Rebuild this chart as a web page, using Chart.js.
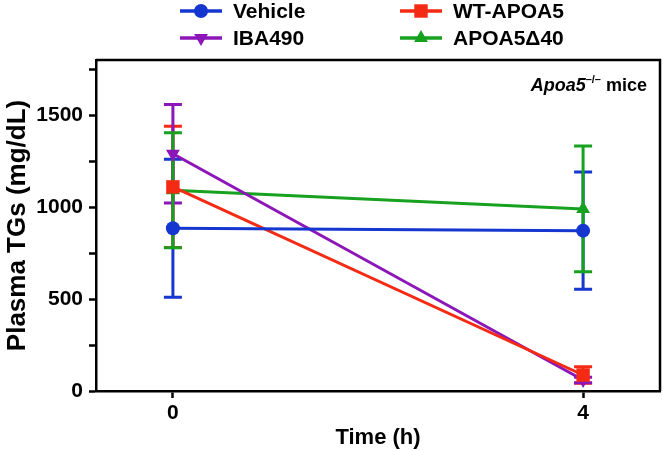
<!DOCTYPE html>
<html>
<head>
<meta charset="utf-8">
<script src="https://cdn.jsdelivr.net/npm/chart.js@4"></script>
<style>
  html, body { margin: 0; padding: 0; background: #fff; }
  #wrap { width: 663px; height: 451px; }
</style>
</head>
<body>
<div id="wrap"><canvas id="tg-chart" width="663" height="451"></canvas></div>
<script>
const times = [0, 4];
const seriesNames = ['Vehicle', 'WT-APOA5', 'IBA490', 'APOA5\u039440'];
const vehicle = [885, 872];
const vehicleErr = [375, 319];
const wtApoa5 = [1110, 87];
const wtApoa5Err = [330, 45];
const iba490 = [1290, 60];
const iba490Err = [268, 15];
const apoa5d40 = [1092, 990];
const apoa5d40Err = [313, 342];
const yTicks = [0, 250, 500, 750, 1000, 1250, 1500, 1750];
const yLabels = [0, 500, 1000, 1500];

const FONT = '"Liberation Sans", Arial, Helvetica, sans-serif';
const colors = ['#1537d0', '#f42a14', '#8c16b8', '#16a11e'];
const markers = [
    { style: 'circle', rot: 0, r: 7 },
    { style: 'rect', rot: 0, r: 9.5 },
    { style: 'triangle', rot: 180, r: 8 },
    { style: 'triangle', rot: 0, r: 8 },
];

function series(values, errs, i) {
    return {
        label: seriesNames[i],
        data: values.map((v, k) => ({ x: times[k], y: v })),
        errors: errs,
        borderColor: colors[i],
        backgroundColor: colors[i],
        borderWidth: 3,
        pointStyle: markers[i].style,
        pointRotation: markers[i].rot,
        pointRadius: markers[i].r,
        pointHoverRadius: markers[i].r,
        pointBorderWidth: 0,
        tension: 0,
    }
}

// error bars + frame + legend + note
const extrasPlugin = {
    id: 'extras',
    beforeDatasetsDraw(chart) {
        const c = chart.ctx, ys = chart.scales.y, xs = chart.scales.x;
        chart.data.datasets.forEach((ds) => {
            c.save();
            c.strokeStyle = ds.borderColor;
            c.lineWidth = 3;
            ds.data.forEach((p, k) => {
                const px = xs.getPixelForValue(p.x);
                const top = ys.getPixelForValue(p.y + ds.errors[k]);
                const bot = ys.getPixelForValue(p.y - ds.errors[k]);
                c.beginPath();
                c.moveTo(px, top); c.lineTo(px, bot);
                c.moveTo(px - 9, top); c.lineTo(px + 9, top);
                c.moveTo(px - 9, bot); c.lineTo(px + 9, bot);
                c.stroke();
            });
            c.restore();
        });
    },
    afterDraw(chart) {
        const c = chart.ctx, a = chart.chartArea;
        c.save();
        // top + right frame
        c.strokeStyle = '#000';
        c.lineWidth = 2.5;
        c.beginPath();
        c.moveTo(a.left, a.top); c.lineTo(a.right, a.top); c.lineTo(a.right, a.bottom);
        c.stroke();

        // legend
        const slots = [
            { x: 180, y: 11 }, { x: 400, y: 11 },
            { x: 180, y: 38 }, { x: 400, y: 38 },
        ];
        chart.data.datasets.forEach((ds, i) => {
            const s = slots[i];
            c.strokeStyle = ds.borderColor;
            c.lineWidth = 3.5;
            c.beginPath();
            c.moveTo(s.x, s.y); c.lineTo(s.x + 42, s.y);
            c.stroke();
            c.fillStyle = ds.borderColor;
            Chart.helpers.drawPoint(c, {
                pointStyle: markers[i].style, rotation: markers[i].rot,
                radius: markers[i].r, borderWidth: 0
            }, s.x + 21, s.y);
            c.fillStyle = '#000';
            c.font = 'bold 21px ' + FONT;
            c.textBaseline = 'middle';
            c.textAlign = 'left';
            c.fillText(ds.label, s.x + 53, s.y + 1);
        });

        // "Apoa5-/- mice"
        c.fillStyle = '#000';
        c.textBaseline = 'alphabetic';
        c.textAlign = 'left';
        const yText = 91;
        c.font = 'bold 18px ' + FONT;
        const mice = ' mice';
        const miceW = c.measureText(mice).width;
        c.font = 'bold 11px ' + FONT;
        const sup = '\u2013/\u2013';
        const supW = c.measureText(sup).width;
        c.font = 'italic bold 18px ' + FONT;
        const apoW = c.measureText('Apoa5').width;
        let x = 647 - miceW - supW - apoW;
        c.fillText('Apoa5', x, yText);
        x += apoW;
        c.font = 'bold 11px ' + FONT;
        c.fillText(sup, x, yText - 8);
        x += supW;
        c.font = 'bold 18px ' + FONT;
        c.fillText(mice, x, yText);
        c.restore();
    }
};

const ctx = document.querySelector('#tg-chart');

const chart = new Chart(ctx.getContext('2d'), {
    type: 'line',
    data: {
        datasets: [
            series(vehicle, vehicleErr, 0),
            series(wtApoa5, wtApoa5Err, 1),
            series(iba490, iba490Err, 2),
            series(apoa5d40, apoa5d40Err, 3),
        ]
    },
    options: {
        responsive: false,
        animation: false,
        events: [],
        layout: {
            autoPadding: false,
            padding: { top: 60, right: 3, left: 0, bottom: 0 }
        },
        scales: {
            x: {
                type: 'linear',
                min: -0.75,
                max: 4.75,
                afterBuildTicks(scale) {
                    scale.ticks = times.map(v => ({ value: v }));
                },
                afterFit(scale) {
                    scale.height = 60;
                    scale.paddingLeft = 0;
                    scale.paddingRight = 0;
                },
                grid: {
                    drawOnChartArea: false,
                    drawTicks: true,
                    tickLength: 7,
                    tickWidth: 2.5,
                    tickColor: '#000',
                },
                border: { display: true, color: '#000', width: 2.5 },
                ticks: {
                    color: '#000',
                    padding: 3,
                    font: { size: 21, weight: 'bold', family: FONT },
                },
                title: {
                    display: true,
                    text: 'Time (h)',
                    color: '#000',
                    padding: { top: 0, bottom: 0 },
                    font: { size: 22, weight: 'bold', family: FONT },
                },
            },
            y: {
                min: 0,
                max: 1800,
                afterBuildTicks(scale) {
                    scale.ticks = yTicks.map(v => ({ value: v }));
                },
                afterFit(scale) {
                    scale.width = 96;
                    scale.paddingTop = 0;
                    scale.paddingBottom = 0;
                },
                grid: {
                    drawOnChartArea: false,
                    drawTicks: true,
                    tickLength: 7,
                    tickWidth: 2.5,
                    tickColor: '#000',
                },
                border: { display: true, color: '#000', width: 2.5 },
                ticks: {
                    color: '#000',
                    padding: 6,
                    font: { size: 21, weight: 'bold', family: FONT },
                    callback: (v) => yLabels.includes(v) ? String(v) : '',
                },
                title: {
                    display: true,
                    text: 'Plasma TGs (mg/dL)',
                    color: '#000',
                    padding: { top: 2, bottom: 0 },
                    font: { size: 26, weight: 'bold', family: FONT },
                },
            },
        },
        plugins: {
            legend: { display: false },
            tooltip: { enabled: false },
        }
    },
    plugins: [extrasPlugin]
});
</script>
</body>
</html>
